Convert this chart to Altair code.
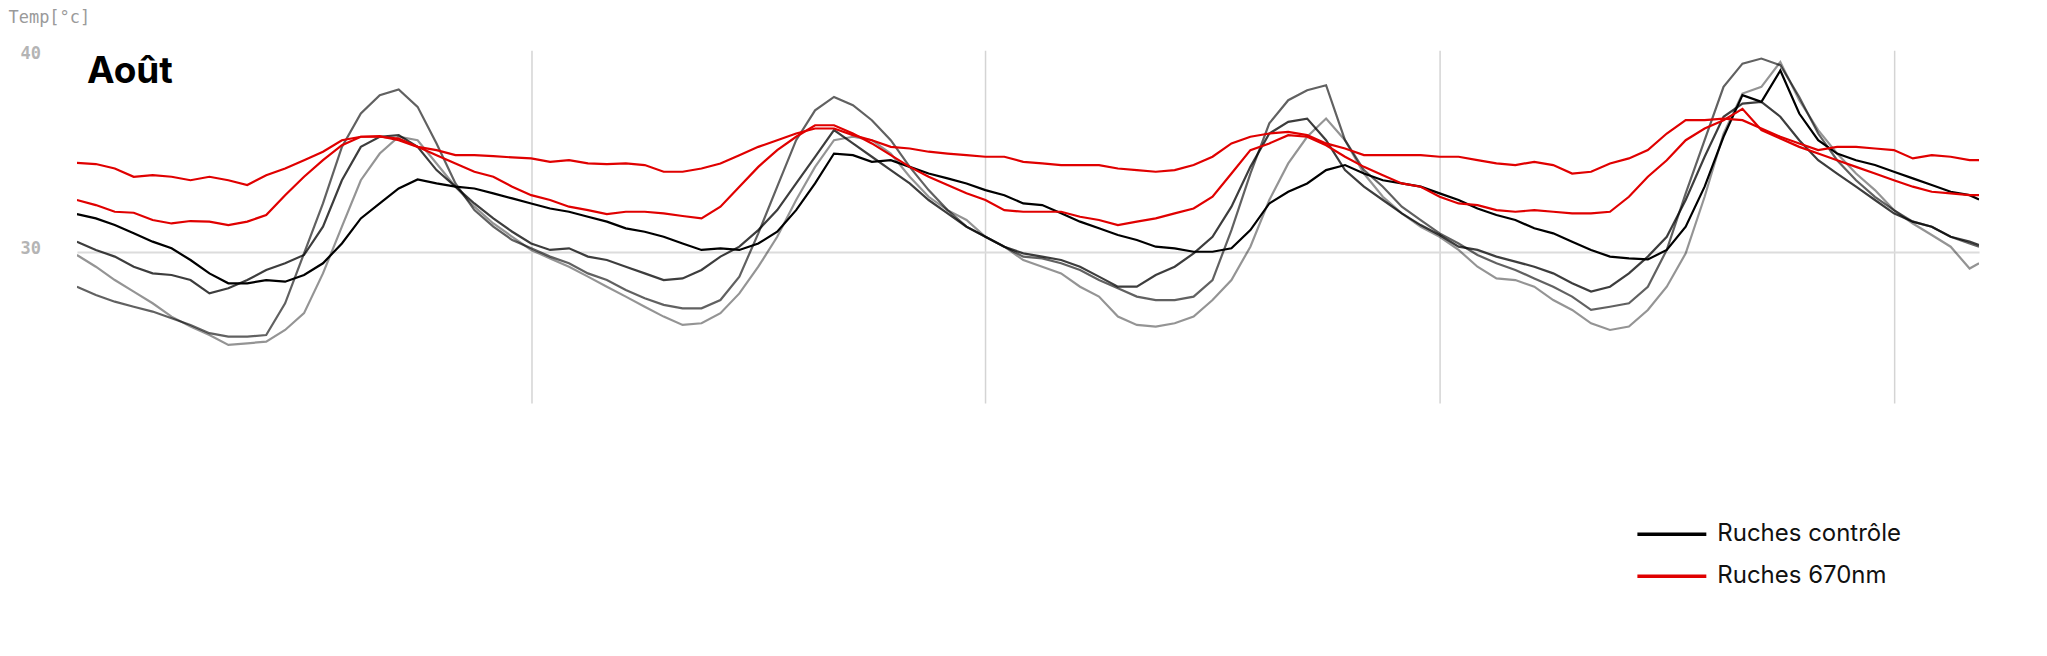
import altair as alt
import pandas as pd

# time axis: hours since the start of the record (gridlines every 24 h)
hours = list(range(0, 101)) + [100.5]

# Ruches 670nm (red)
r670_a = [34.43, 34.37, 34.15, 33.74, 33.82, 33.74, 33.57, 33.74, 33.57, 33.33, 33.82, 34.15, 34.56, 34.98, 35.55, 35.72, 35.75, 35.55, 35.22, 35.06, 34.81, 34.81, 34.76, 34.70, 34.65, 34.48,
          34.56, 34.40, 34.37, 34.40, 34.32, 33.99, 33.99, 34.15, 34.40, 34.81, 35.22, 35.55, 35.88, 36.13, 36.13, 35.80, 35.55, 35.22, 35.14, 34.98, 34.89, 34.81, 34.73, 34.73, 34.48,
          34.40, 34.32, 34.32, 34.32, 34.15, 34.07, 33.99, 34.07, 34.32, 34.73, 35.39, 35.72, 35.88, 35.96, 35.80, 35.39, 35.14, 34.81, 34.81, 34.81, 34.81, 34.73, 34.73, 34.56, 34.40,
          34.32, 34.48, 34.32, 33.90, 33.99, 34.40, 34.65, 35.06, 35.88, 36.54, 36.54, 36.62, 36.54, 36.13, 35.72, 35.39, 35.06, 35.22, 35.22, 35.14, 35.06, 34.65, 34.81, 34.73, 34.56, 34.56]
r670_b = [32.59, 32.34, 32.01, 31.96, 31.60, 31.43, 31.55, 31.52, 31.35, 31.52, 31.85, 32.83, 33.74, 34.56, 35.30, 35.72, 35.72, 35.63, 35.22, 34.81, 34.40, 33.99, 33.74, 33.25, 32.83, 32.59,
          32.26, 32.09, 31.89, 32.01, 32.01, 31.93, 31.80, 31.68, 32.26, 33.25, 34.23, 35.06, 35.72, 36.29, 36.29, 35.88, 35.39, 34.81, 34.23, 33.74, 33.33, 32.92, 32.59, 32.09, 32.01,
          32.01, 32.01, 31.76, 31.60, 31.35, 31.52, 31.68, 31.93, 32.17, 32.75, 33.90, 35.06, 35.39, 35.80, 35.72, 35.30, 34.73, 34.23, 33.82, 33.41, 33.25, 32.75, 32.42, 32.34, 32.09,
          32.01, 32.09, 32.01, 31.93, 31.93, 32.01, 32.75, 33.74, 34.56, 35.55, 36.13, 36.54, 37.10, 36.05, 35.63, 35.22, 34.89, 34.56, 34.23, 33.90, 33.57, 33.25, 33.00, 32.92, 32.83, 32.83]

# Ruches contrôle (black / greys)
ctrl_a = [31.89, 31.68, 31.35, 30.94, 30.53, 30.20, 29.62, 28.96, 28.47, 28.47, 28.63, 28.55, 28.88, 29.46, 30.44, 31.68, 32.42, 33.16, 33.61, 33.41, 33.25, 33.16, 32.92, 32.67, 32.42, 32.17,
          32.01, 31.76, 31.52, 31.19, 31.02, 30.77, 30.44, 30.12, 30.20, 30.12, 30.44, 31.02, 32.09, 33.41, 34.89, 34.81, 34.48, 34.56, 34.23, 33.90, 33.66, 33.41, 33.08, 32.83, 32.42,
          32.34, 31.93, 31.52, 31.19, 30.86, 30.61, 30.28, 30.20, 30.03, 30.03, 30.20, 31.10, 32.42, 33.00, 33.41, 34.07, 34.32, 33.90, 33.57, 33.41, 33.25, 32.92, 32.59, 32.17, 31.85,
          31.60, 31.19, 30.94, 30.53, 30.12, 29.79, 29.70, 29.65, 30.12, 31.27, 33.25, 35.72, 37.78, 37.45, 39.00, 36.87, 35.55, 34.89, 34.56, 34.32, 33.99, 33.66, 33.33, 33.00, 32.83, 32.62]
ctrl_b = [30.53, 30.12, 29.79, 29.29, 28.96, 28.88, 28.63, 27.97, 28.22, 28.63, 29.13, 29.46, 29.87, 31.27, 33.57, 35.22, 35.72, 35.80, 35.22, 34.07, 33.25, 32.42, 31.68, 31.02, 30.44, 30.12,
          30.20, 29.79, 29.62, 29.29, 28.96, 28.63, 28.71, 29.13, 29.79, 30.28, 31.10, 32.09, 33.41, 34.73, 36.05, 35.39, 34.73, 34.07, 33.41, 32.59, 31.93, 31.27, 30.77, 30.28, 29.95,
          29.79, 29.62, 29.29, 28.80, 28.30, 28.30, 28.88, 29.29, 29.95, 30.77, 32.26, 34.23, 35.88, 36.46, 36.62, 35.55, 34.07, 33.25, 32.59, 31.93, 31.35, 30.86, 30.28, 30.12, 29.79,
          29.54, 29.29, 28.96, 28.47, 28.06, 28.30, 28.96, 29.79, 30.77, 32.59, 34.73, 36.71, 37.36, 37.45, 36.71, 35.55, 34.56, 33.90, 33.25, 32.59, 31.93, 31.52, 31.27, 30.77, 30.53, 30.36]
ctrl_c = [28.30, 27.89, 27.56, 27.31, 27.07, 26.74, 26.41, 26.00, 25.83, 25.83, 25.91, 27.48, 29.95, 32.42, 35.22, 36.87, 37.78, 38.06, 37.20, 35.39, 33.41, 32.09, 31.27, 30.61, 30.20, 29.79,
          29.46, 28.96, 28.63, 28.14, 27.73, 27.40, 27.23, 27.23, 27.64, 28.80, 30.94, 33.25, 35.55, 37.03, 37.69, 37.28, 36.54, 35.55, 34.23, 33.08, 32.09, 31.27, 30.77, 30.28, 29.79,
          29.70, 29.46, 29.13, 28.63, 28.22, 27.81, 27.64, 27.64, 27.81, 28.63, 31.10, 33.90, 36.38, 37.53, 38.02, 38.27, 35.55, 34.07, 33.25, 32.26, 31.60, 30.94, 30.44, 29.87, 29.46,
          29.13, 28.71, 28.30, 27.81, 27.15, 27.31, 27.48, 28.30, 30.12, 32.92, 35.55, 38.19, 39.34, 39.59, 39.26, 37.69, 35.88, 34.56, 33.57, 32.75, 32.09, 31.52, 31.27, 30.77, 30.44, 30.28]
ctrl_d = [29.87, 29.29, 28.63, 28.06, 27.48, 26.82, 26.33, 25.91, 25.42, 25.50, 25.58, 26.16, 26.99, 28.96, 31.27, 33.57, 34.89, 35.72, 35.55, 34.40, 33.25, 32.26, 31.43, 30.77, 30.12, 29.70,
          29.29, 28.80, 28.30, 27.81, 27.31, 26.82, 26.41, 26.49, 26.99, 27.97, 29.29, 30.77, 32.59, 34.23, 35.55, 35.72, 35.55, 34.89, 33.74, 32.75, 32.09, 31.60, 30.77, 30.28, 29.62,
          29.29, 28.96, 28.30, 27.81, 26.82, 26.41, 26.33, 26.49, 26.82, 27.64, 28.63, 30.28, 32.59, 34.40, 35.72, 36.62, 35.55, 33.90, 32.75, 31.93, 31.27, 30.77, 30.12, 29.29, 28.71,
          28.63, 28.30, 27.64, 27.15, 26.49, 26.16, 26.33, 27.15, 28.30, 29.95, 32.75, 35.88, 37.86, 38.19, 39.42, 37.53, 36.05, 34.89, 33.90, 33.08, 32.09, 31.43, 30.86, 30.28, 29.20, 29.46]

groups = ["Ruches contrôle", "Ruches 670nm"]
series = [
    ("ctrl_d", groups[0], ctrl_d),
    ("ctrl_c", groups[0], ctrl_c),
    ("ctrl_b", groups[0], ctrl_b),
    ("ctrl_a", groups[0], ctrl_a),
    ("r670_b", groups[1], r670_b),
    ("r670_a", groups[1], r670_a),
]
series_opacity = {"ctrl_d": 0.42, "ctrl_c": 0.62, "ctrl_b": 0.76,
                  "ctrl_a": 1.0, "r670_b": 1.0, "r670_a": 1.0}

rows = []
for sid, grp, vals in series:
    for h, v in zip(hours, vals):
        rows.append({"hour": h, "temp": v, "series": sid, "group": grp,
                     "op": series_opacity[sid]})
df = pd.DataFrame(rows)

x_enc = alt.X(
    "hour:Q",
    scale=alt.Scale(domain=[0, 100.5], nice=False, zero=False),
    axis=alt.Axis(values=[24, 48, 72, 96], labels=False, ticks=False, domain=False,
                  title=None, grid=True, gridColor="#d4d4d4", gridWidth=1.5),
)
y_enc = alt.Y(
    "temp:Q",
    scale=alt.Scale(domain=[22.55, 40], nice=False, zero=False),
    axis=alt.Axis(
        values=[30, 40], title="Temp[°c]", titleAngle=0, titleX=-69, titleY=-33,
        titleAlign="left", titleBaseline="middle", titleFont="DejaVu Sans Mono",
        titleFontSize=17, titleFontWeight="normal", titleColor="#9a9a9a",
        labelFont="DejaVu Sans Mono", labelFontSize=17, labelFontWeight="bold",
        labelColor="#b4b4b4", labelAlign="left", labelPadding=57, labelBaseline="middle",
        labelOffset={"condition": {"test": "datum.value >= 40", "value": 3}, "value": -4},
        ticks=False, domain=False, grid=True, gridWidth=2,
        gridColor={"condition": {"test": "datum.value == 30", "value": "#dcdcdc"},
                   "value": "rgba(0,0,0,0)"},
    ),
)

lines = alt.Chart(df).mark_line(strokeWidth=2.2, clip=True).encode(
    x=x_enc,
    y=y_enc,
    color=alt.Color(
        "group:N",
        scale=alt.Scale(domain=groups, range=["#000000", "#e00000"]),
        legend=alt.Legend(
            title=None, orient="none", legendX=1583, legendY=471,
            symbolType="M-3,0H3", symbolSize=529, symbolStrokeWidth=3.5,
            labelFont="Inter", labelFontSize=24, labelColor="#111111", labelLimit=0,
            labelOffset=32, rowPadding=16, padding=0,
        ),
    ),
    opacity=alt.Opacity("op:Q", scale=None, legend=None),
    detail="series:N",
)

title_df = pd.DataFrame({"label": ["Août"]})
title = alt.Chart(title_df).mark_text(
    align="left", baseline="alphabetic", font="Inter", fontSize=37, fontWeight="bold",
    color="#000000",
).encode(text="label:N", x=alt.value(10), y=alt.value(33))

chart = (
    alt.layer(lines, title)
    .properties(
        width=1904, height=353,
        padding={"left": 69, "top": 42, "right": 60, "bottom": 230},
        autosize=alt.AutoSizeParams(type="none"),
    )
    .configure_view(stroke=None)
)

chart.save("out.html", embed_options={"renderer": "svg", "actions": False})
